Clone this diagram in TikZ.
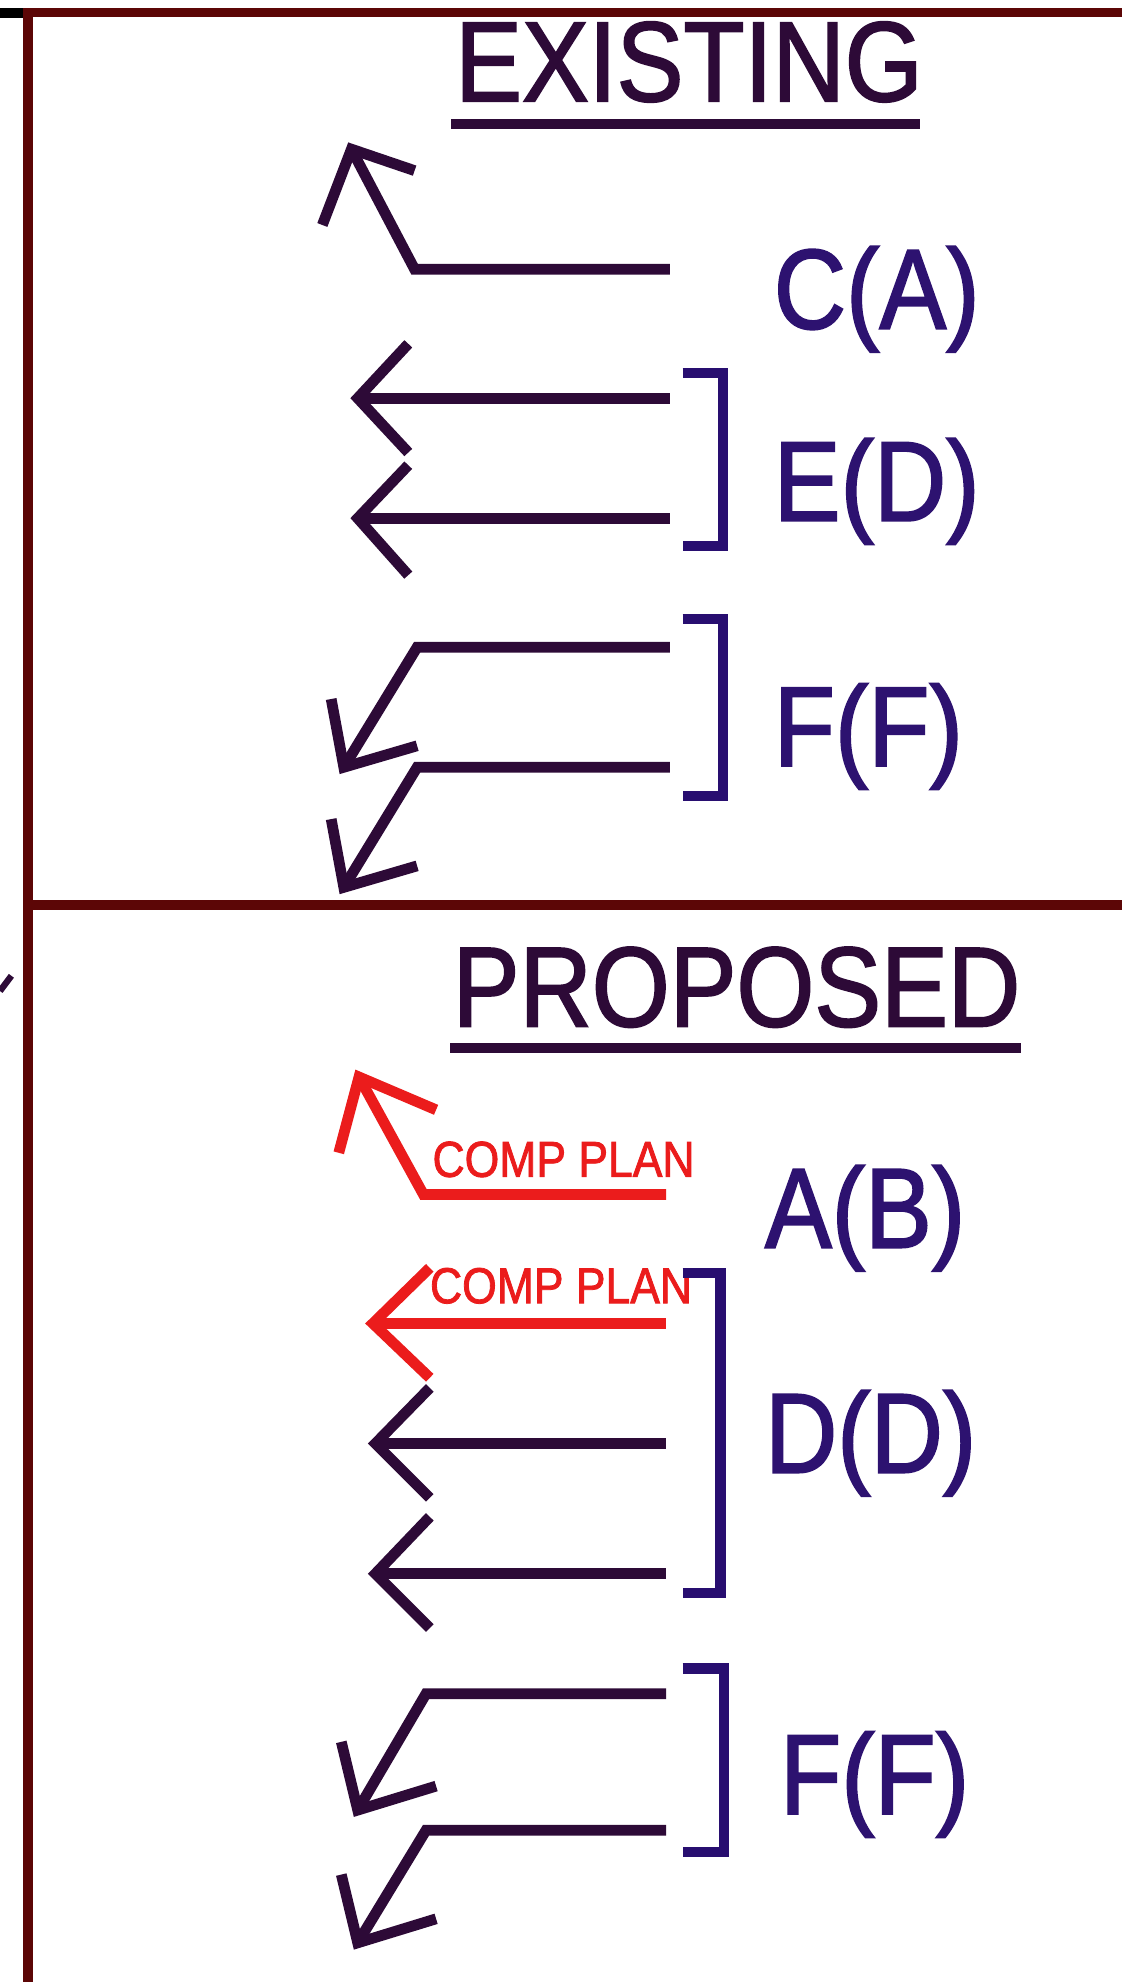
\documentclass[tikz,border=0pt]{standalone}
\usepackage{fontspec}
\setmainfont{Liberation Sans}
\newfontfamily\narrowfont[FakeStretch=0.88, FakeBold=1.6]{Liberation Sans}
\definecolor{framered}{RGB}{92,6,6}
\definecolor{ink}{RGB}{45,10,55}
\definecolor{labelblue}{RGB}{45,18,112}
\definecolor{bracketblue}{RGB}{40,14,112}
\definecolor{compred}{RGB}{235,28,28}
\begin{document}
\begin{tikzpicture}[x=1pt, y=-1pt, line join=miter,
    frameline/.style = {draw=framered, line width=7.5pt},
    arr/.style = {draw=ink, line width=8.5pt},
    comparr/.style = {draw=compred, line width=8.5pt},
    brace/.style = {draw=bracketblue, line width=8pt},
    title/.style = {text=ink, font=\narrowfont\fontsize{90}{90}\selectfont, inner sep=0pt, anchor=base west},
    main/.style = {text=labelblue, font=\narrowfont\fontsize{90}{90}\selectfont, inner sep=0pt, anchor=base west},
    complbl/.style = {text=compred, font=\narrowfont\fontsize{40}{40}\selectfont, inner sep=0pt, anchor=base west}]
\useasboundingbox[fill=white] (0,0) rectangle (888,1568);
% frame
\draw[black, line width=8pt] (0,10) -- (20,10);
\draw[frameline] (18,10) -- (888,10);
\draw[frameline] (22,7) -- (22,1568);
\draw[frameline] (22,716) -- (888,716);
\draw[ink, line width=5pt] (0,784) -- (9,772);

% existing
\node[title] at (360,80) (ex) {EXISTING};
\draw[ink, line width=8pt] (ex.base west) ++(-3,18) -- ++(371,0);
\node[main] at (612,260) (ca) {C(A)};
\node[main] at (612,412) (ed) {E(D)};
\node[main] at (612,606) (ff) {F(F)};

\draw[arr] (255,178) -- (278,118) -- (328,135);
\draw[arr] (278,118) -- (328,213) -- (530,213);
\draw[arr] (323,272) -- (283,315) -- (323,358);
\draw[arr] (283,315) -- (530,315);
\draw[arr] (323,368) -- (283,410) -- (323,455);
\draw[arr] (283,410) -- (530,410);
\draw[brace] (540,295) -- (572,295) -- (572,432) -- (540,432);

\draw[arr] (530,512) -- (330,512) -- (272,607);
\draw[arr] (262,553) -- (272,607) -- (330,590);
\draw[arr] (530,607) -- (330,607) -- (272,702);
\draw[arr] (262,648) -- (272,702) -- (330,685);
\draw[brace] (540,490) -- (572,490) -- (572,630) -- (540,630);

% proposed
\node[title] at (358,812) (pr) {PROPOSED};
\draw[ink, line width=8pt] (pr.base west) ++(-2,17) -- ++(452,0);
\node[main] at (605,987) (ab) {A(B)};
\node[main] at (605,1165) (dd) {D(D)};
\node[main] at (617,1435) (ff2) {F(F)};

\draw[comparr] (268,912) -- (284,852) -- (345,878);
\draw[comparr] (284,852) -- (335,945) -- (527,945);
\node[complbl] at (342,931) (cp1) {COMP PLAN};
\draw[comparr] (340,1003) -- (295,1047) -- (340,1090);
\draw[comparr] (295,1047) -- (527,1047);
\node[complbl] at (340,1031) (cp2) {COMP PLAN};

\draw[arr] (340,1098) -- (297,1142) -- (340,1185);
\draw[arr] (297,1142) -- (527,1142);
\draw[arr] (340,1200) -- (297,1245) -- (340,1288);
\draw[arr] (297,1245) -- (527,1245);
\draw[brace] (540,1007) -- (570,1007) -- (570,1260) -- (540,1260);

\draw[arr] (527,1340) -- (337,1340) -- (283,1432);
\draw[arr] (270,1378) -- (283,1432) -- (345,1413);
\draw[arr] (527,1448) -- (337,1448) -- (283,1537);
\draw[arr] (270,1483) -- (283,1537) -- (345,1518);
\draw[brace] (540,1320) -- (573,1320) -- (573,1465) -- (540,1465);
\end{tikzpicture}
\end{document}
